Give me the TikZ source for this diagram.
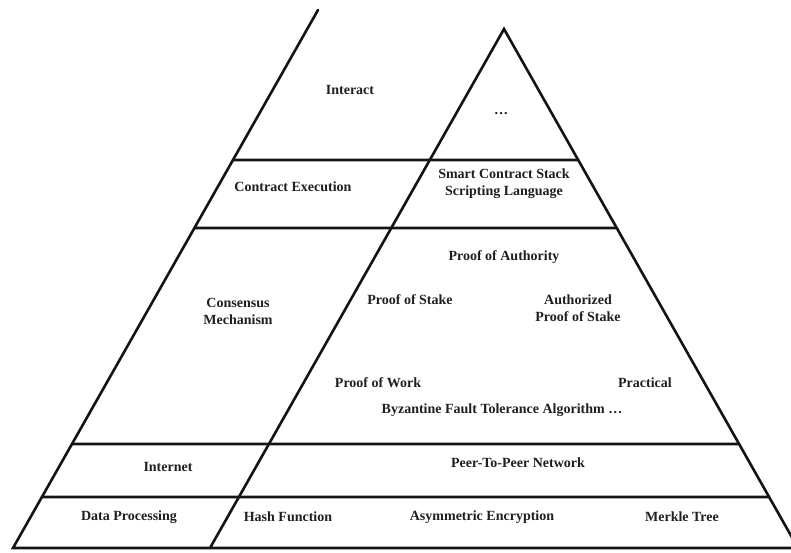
\documentclass[tikz,border=0pt]{standalone}
\usepackage{fontspec}
\setmainfont{Liberation Serif}
\usetikzlibrary{calc}
\begin{document}
\begin{tikzpicture}[x=1pt,y=-1pt,
  edge/.style={line width=2.6pt, draw=black!92, line cap=round, line join=miter},
  lbl/.style={font=\fontsize{14}{17}\selectfont\bfseries, text=black!88, align=center, inner sep=0pt}]
\useasboundingbox (0,0) rectangle (791,552);
\clip (0,0) rectangle (791,552);
\coordinate (LT) at (318,10);
\coordinate (LB) at (13,548);
\coordinate (A) at (504,29);
\coordinate (IB) at (210,548);
\coordinate (RB) at (798,548);
\foreach \y/\n in {160/a,228/b,444/c,497/d}{
  \coordinate (l\n) at ($(LT)!{(\y-10)/538}!(LB)$);
  \coordinate (r\n) at ($(A)!{(\y-29)/519}!(RB)$);
}
% outline
\draw[edge] (LT) -- (LB) -- (RB) -- (A) -- (IB);
\draw[edge] (la) -- (ra);
\draw[edge] (lb) -- (rb);
\draw[edge] (lc) -- (rc);
\draw[edge] (ld) -- (rd);
% labels
\node[lbl] (interact) at (350,90) {Interact};
\node[lbl] (dots) at (501,114) {…};
\node[lbl] (contract) at (293,187) {Contract Execution};
\node[lbl] (smart) at (504,184) {Smart Contract Stack\\Scripting Language};
\node[lbl] (poa) at (504,257) {Proof of Authority};
\node[lbl] (consensus) at (238,311) {Consensus\\Mechanism};
\node[lbl] (pos) at (410,300) {Proof of Stake};
\node[lbl] (apos) at (578,308) {Authorized\\Proof of Stake};
\node[lbl] (pow) at (378,383) {Proof of Work};
\node[lbl] (practical) at (645,383) {Practical};
\node[lbl] (bft) at (502,410) {Byzantine Fault Tolerance Algorithm …};
\node[lbl] (internet) at (168,467) {Internet};
\node[lbl] (p2p) at (518,463) {Peer-To-Peer Network};
\node[lbl] (data) at (129,517) {Data Processing};
\node[lbl] (hash) at (288,517) {Hash Function};
\node[lbl] (asym) at (482,517) {Asymmetric Encryption};
\node[lbl] (merkle) at (682,517) {Merkle Tree};
\end{tikzpicture}
\end{document}
